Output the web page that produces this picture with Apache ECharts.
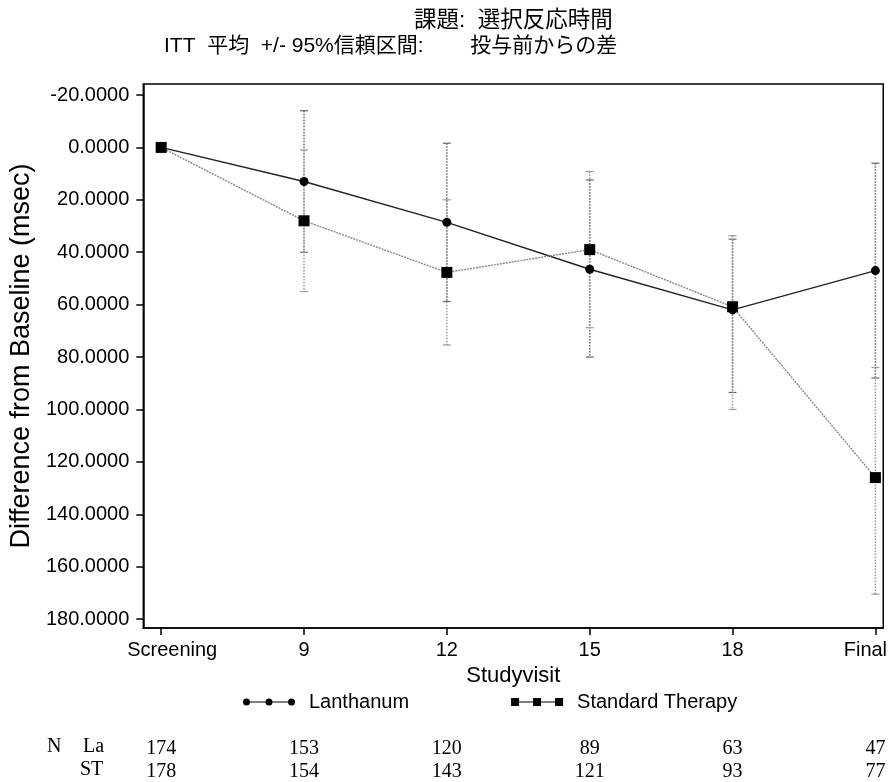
<!DOCTYPE html>
<html>
<head>
<meta charset="utf-8">
<title>選択反応時間</title>
<script src="https://cdn.jsdelivr.net/npm/echarts@6/dist/echarts.min.js"></script>
<style>
  html, body { margin: 0; padding: 0; background: #fff; }
  #chart { width: 890px; height: 782px; }
</style>
</head>
<body>
<div id="chart"></div>
<script>
// visits (equally spaced on the axis)
const visits = ['Screening', '9', '12', '15', '18', 'Final']
const yTicks = [-20, 0, 20, 40, 60, 80, 100, 120, 140, 160, 180]

// Lanthanum: mean and 95% CI
const laMean = [0, 13.0, 28.6, 46.5, 62.0, 47.0]
const laLow = [null, -14.0, -1.6, 12.4, 35.0, 6.0]
const laHigh = [null, 40.0, 58.8, 80.0, 93.5, 88.0]

// Standard Therapy: mean and 95% CI
const stMean = [0, 28.0, 47.7, 39.0, 60.8, 126.0]
const stLow = [null, 1.0, 20.0, 9.2, 33.7, 84.0]
const stHigh = [null, 55.0, 75.4, 68.8, 100.0, 170.5]

// N per visit
const laN = [174, 153, 120, 89, 63, 47]
const stN = [178, 154, 143, 121, 93, 77]

const sans = "'Liberation Sans', 'Noto Sans CJK JP', sans-serif"
const serif = "'Liberation Serif', serif"
const idx = visits.map((v, i) => i)

const chart = echarts.init(document.getElementById('chart'))

function errBar(color) {
  return function (params, api) {
    const x = api.value(0)
    const lo = api.coord([x, api.value(1)])
    const hi = api.coord([x, api.value(2)])
    const w = 4
    return {
      type: 'group',
      children: [
        { type: 'line', shape: { x1: lo[0], y1: lo[1], x2: hi[0], y2: hi[1] }, style: { stroke: color, lineWidth: 1.5, lineDash: [1.5, 1.5] } },
        { type: 'line', shape: { x1: lo[0] - w, y1: lo[1], x2: lo[0] + w, y2: lo[1] }, style: { stroke: color, lineWidth: 1.2 } },
        { type: 'line', shape: { x1: hi[0] - w, y1: hi[1], x2: hi[0] + w, y2: hi[1] }, style: { stroke: color, lineWidth: 1.2 } }
      ]
    }
  }
}

const ciData = (lo, hi) => idx.filter(i => lo[i] != null).map(i => [i, lo[i], hi[i]])

const circleIcon = 'path://M0,3.5 A3.5,3.5 0 1 1 7,3.5 A3.5,3.5 0 1 1 0,3.5 Z M7,3 H22.5 V4 H7 Z M22.5,3.5 A3.5,3.5 0 1 1 29.5,3.5 A3.5,3.5 0 1 1 22.5,3.5 Z M29.5,3 H45 V4 H29.5 Z M45,3.5 A3.5,3.5 0 1 1 52,3.5 A3.5,3.5 0 1 1 45,3.5 Z'
const squareIcon = 'path://M0,0 H8 V8 H0 Z M8,3.5 H22 V4.5 H8 Z M22,0 H30 V8 H22 Z M30,3.5 H44 V4.5 H30 Z M44,0 H52 V8 H44 Z'

const xMin = -0.125, xMax = 5.055

const tableAxis = (vals, offset) => ({
  type: 'value', min: xMin, max: xMax, position: 'bottom', offset: offset,
  axisLine: { show: false, onZero: false }, axisTick: { show: false }, splitLine: { show: false },
  axisLabel: { customValues: idx, formatter: v => String(vals[Math.round(v)]), fontFamily: serif, fontSize: 20, color: '#000', margin: 0 }
})

chart.setOption({
  backgroundColor: '#fff',
  animation: false,
  title: [
    { text: '課題:  選択反応時間', left: 409, top: 5, textStyle: { fontFamily: sans, fontSize: 22.5, fontWeight: 'normal', color: '#000' } },
    { text: 'ITT  平均  +/- 95%信頼区間:        投与前からの差', left: 159, top: 31, textStyle: { fontFamily: sans, fontSize: 21, fontWeight: 'normal', color: '#000' } }
  ],
  grid: { left: 137, right: 6, top: 84, bottom: 154, show: true, borderColor: '#000', borderWidth: 1.5 },
  legend: {
    left: 243, top: 692, itemGap: 102, itemWidth: 52, itemHeight: 8, padding: 0,
    formatter: '{t|{name}}',
    textStyle: { fontFamily: sans, fontSize: 20, color: '#000', rich: { t: { fontFamily: sans, fontSize: 20, color: '#000', padding: [0, 0, 0, 9] } } },
    data: [{ name: 'Lanthanum', icon: circleIcon }, { name: 'Standard Therapy', icon: squareIcon }]
  },
  graphic: [
    { type: 'text', left: 47, top: 737, style: { text: 'N', font: '20px ' + serif, fill: '#000' } },
    { type: 'text', left: 83, top: 737, style: { text: 'La', font: '20px ' + serif, fill: '#000' } },
    { type: 'text', left: 80, top: 760, style: { text: 'ST', font: '20px ' + serif, fill: '#000' } }
  ],
  xAxis: [
    {
      type: 'value', min: xMin, max: xMax,
      name: 'Studyvisit', nameLocation: 'middle', nameGap: 33,
      nameTextStyle: { fontFamily: sans, fontSize: 22, color: '#000' },
      axisLine: { onZero: false, lineStyle: { color: '#000', width: 1.5 } },
      axisTick: { customValues: idx, length: 7, lineStyle: { color: '#000', width: 1.5 } },
      splitLine: { show: false },
      axisLabel: {
        customValues: idx, margin: 12, fontFamily: sans, fontSize: 20, color: '#000',
        formatter: v => {
          const i = Math.round(v)
          if (i === 0) return '{a|' + visits[i] + '}'
          if (i === visits.length - 1) return '{b|' + visits[i] + '}'
          return visits[i]
        },
        rich: {
          a: { fontFamily: sans, fontSize: 20, color: '#000', padding: [0, 0, 0, 22] },
          b: { fontFamily: sans, fontSize: 20, color: '#000', padding: [0, 20, 0, 0] }
        }
      }
    },
    tableAxis(laN, 111),
    tableAxis(stN, 134)
  ],
  yAxis: {
    type: 'value', inverse: true, min: -24.2, max: 183.4,
    name: 'Difference from Baseline (msec)', nameLocation: 'middle', nameGap: 105,
    nameTextStyle: { fontFamily: sans, fontSize: 27, color: '#000' },
    axisLine: { show: true, onZero: false, lineStyle: { color: '#000', width: 1.5 } },
    axisTick: { show: true, customValues: yTicks, length: 7, lineStyle: { color: '#000', width: 1.5 } },
    splitLine: { show: false },
    axisLabel: { customValues: yTicks, margin: 14, fontFamily: sans, fontSize: 20, color: '#000', formatter: v => v.toFixed(4) }
  },
  series: [
    { name: 'La CI', type: 'custom', renderItem: errBar('#666'), data: ciData(laLow, laHigh), z: 1, silent: true },
    { name: 'ST CI', type: 'custom', renderItem: errBar('#999'), data: ciData(stLow, stHigh), z: 1, silent: true },
    {
      name: 'Lanthanum', type: 'line', data: laMean.map((v, i) => [i, v]), z: 3,
      symbol: 'circle', symbolSize: 9, itemStyle: { color: '#000' },
      lineStyle: { color: '#222', width: 1.4 }
    },
    {
      name: 'Standard Therapy', type: 'line', data: stMean.map((v, i) => [i, v]), z: 4,
      symbol: 'rect', symbolSize: 11, itemStyle: { color: '#000' },
      lineStyle: { color: '#888', width: 1.4, type: [2, 1] }
    }
  ]
})
</script>
</body>
</html>
